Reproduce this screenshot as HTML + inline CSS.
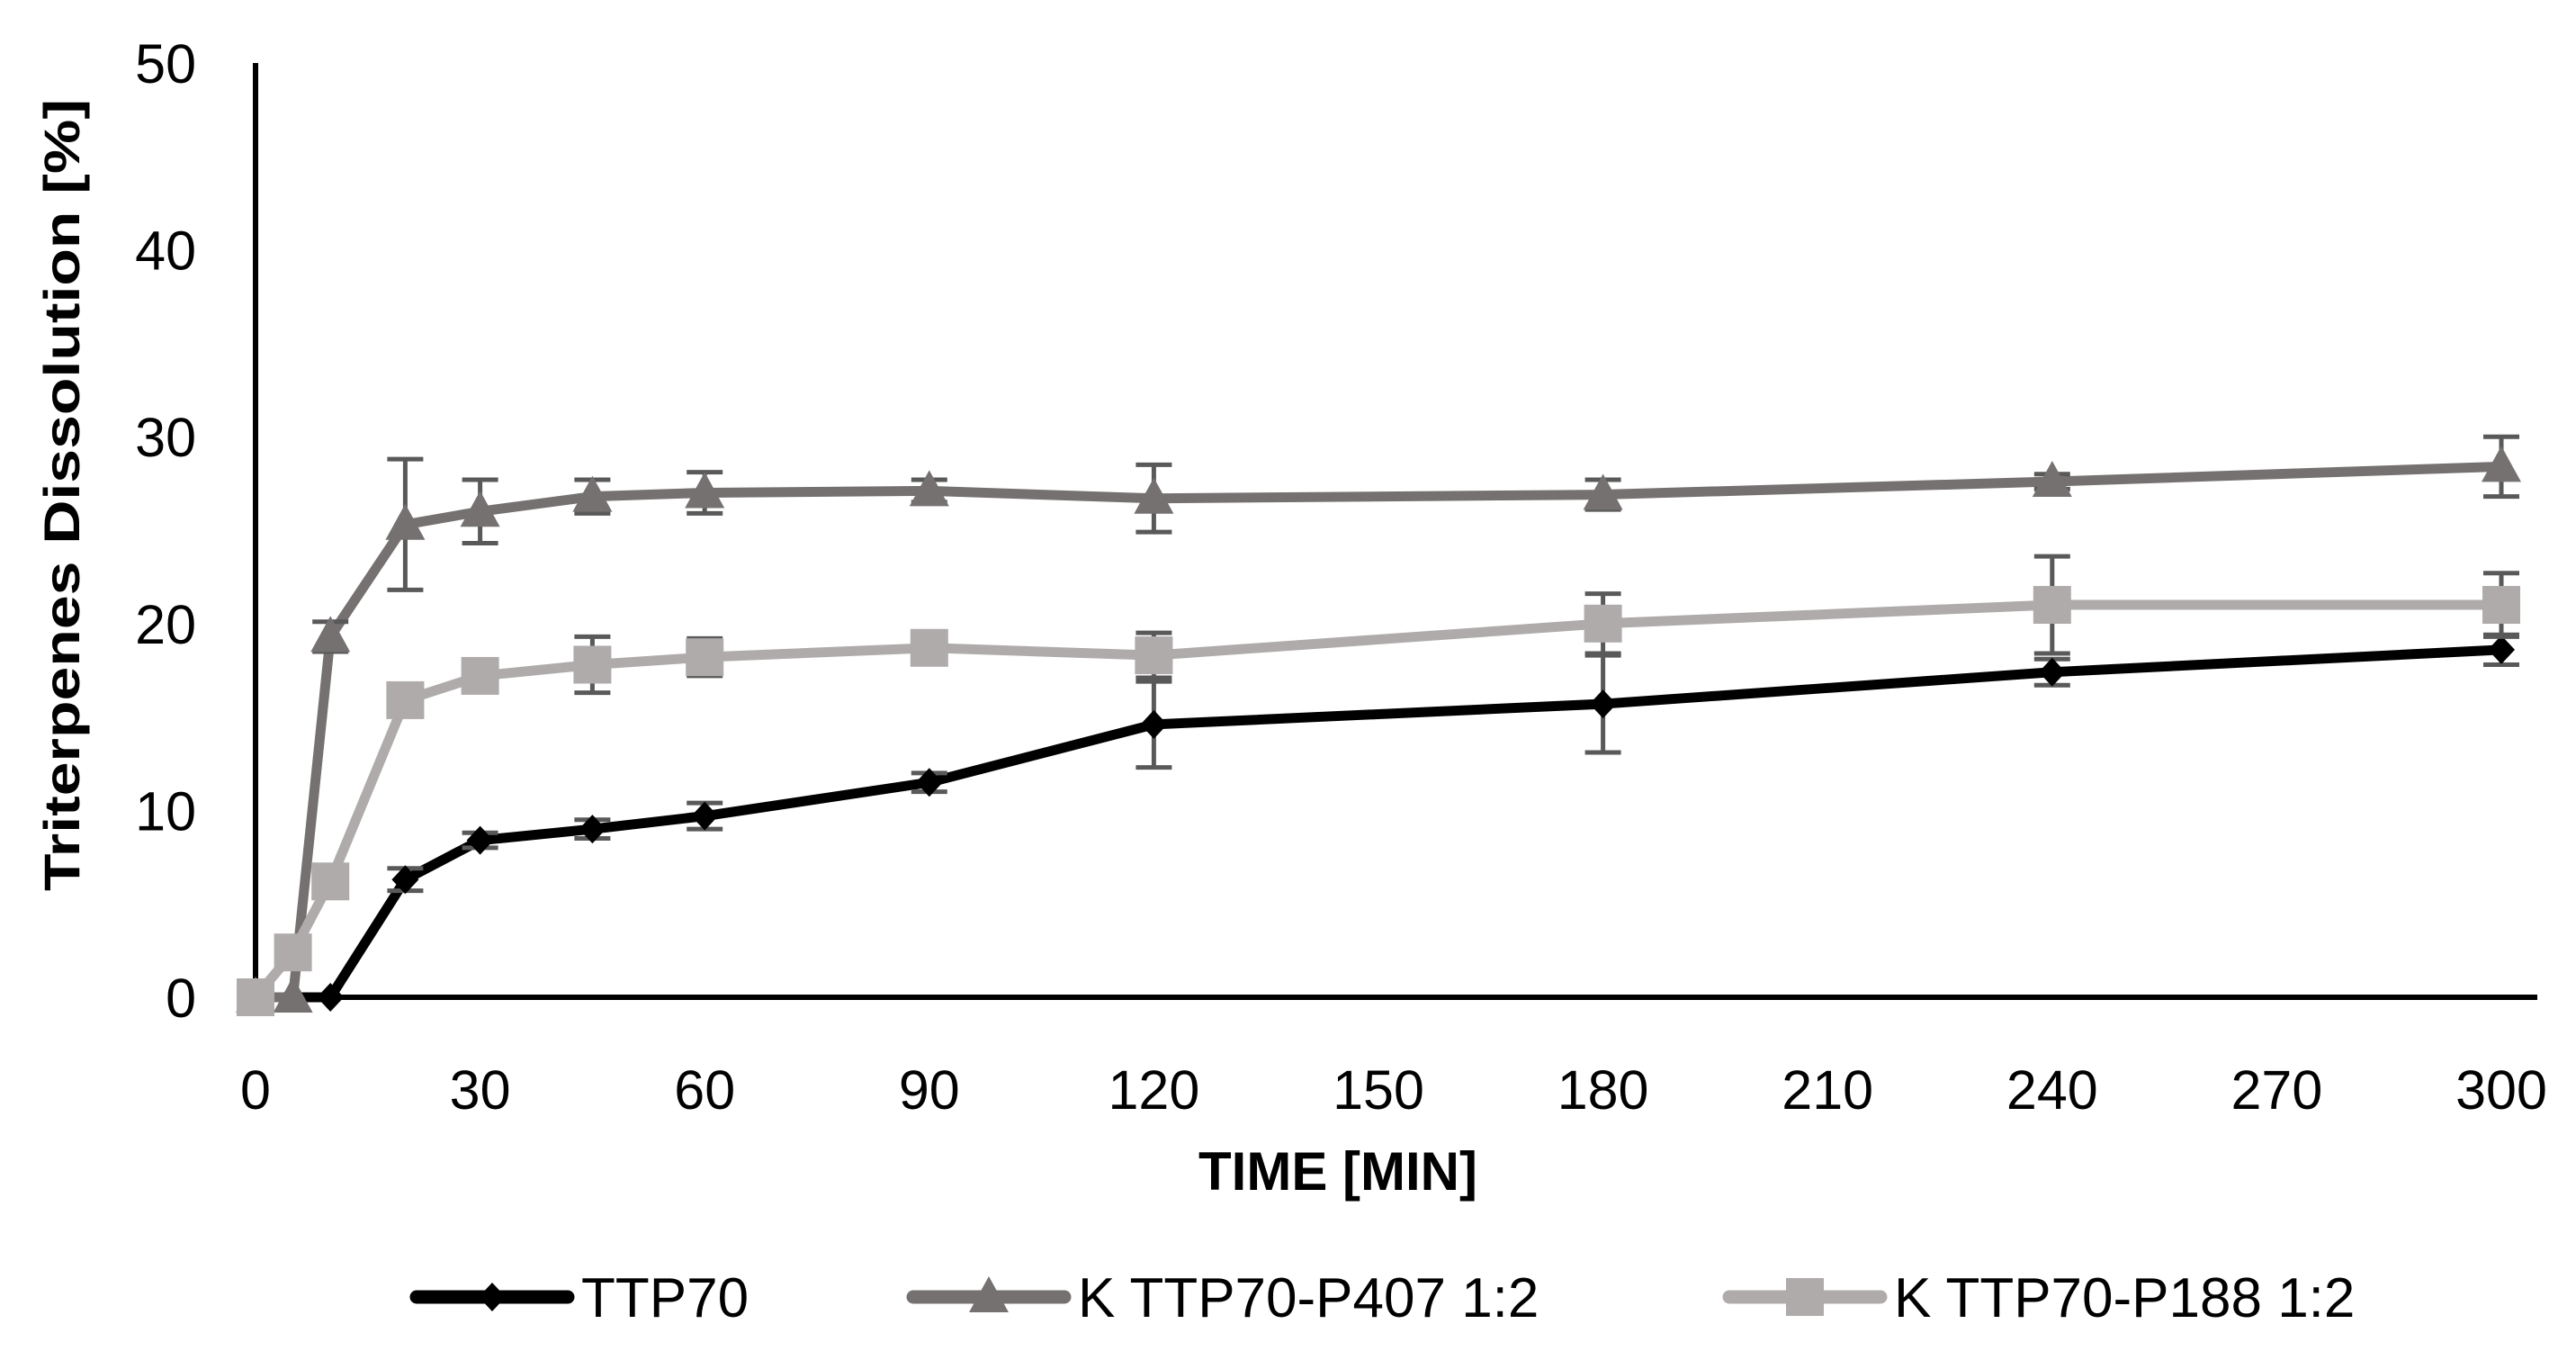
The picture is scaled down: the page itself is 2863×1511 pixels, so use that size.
<!DOCTYPE html>
<html><head><meta charset="utf-8"><style>
html,body{margin:0;padding:0;background:#fff;}
svg{display:block;font-family:"Liberation Sans",sans-serif;}
</style></head><body>
<svg id="chart" width="2863" height="1511" viewBox="0 0 2863 1511" xmlns="http://www.w3.org/2000/svg">
<g id="axes"></g>
<g id="series"></g>
<text transform="translate(88,550) rotate(-90)" text-anchor="middle" font-weight="bold" font-size="56" textLength="880" lengthAdjust="spacingAndGlyphs">Triterpenes Dissolution  [%]</text>
<text x="1487" y="1322" text-anchor="middle" font-weight="bold" font-size="60">TIME [MIN]</text>
<g id="legend"></g>
</svg>
<script>
const times = [0,5,10,20,30,45,60,90,120,180,240,300];
const seriesNames = ["TTP70","K TTP70-P407 1:2","K TTP70-P188 1:2"];
const ttp70 = [0,0,0,6.3,8.4,9.0,9.7,11.5,14.6,15.7,17.4,18.6];
const ttp70Err = [0,0,0,0.6,0.4,0.5,0.7,0.5,2.3,2.6,0.7,0.8];
const p407 = [0,0,19.3,25.3,26.0,26.8,27.0,27.1,26.7,26.9,27.6,28.4];
const p407Err = [0,0,0.8,3.5,1.7,0.9,1.1,0.6,1.8,0.8,0.4,1.6];
const p188 = [0,2.4,6.2,15.9,17.2,17.8,18.2,18.7,18.3,20.0,21.0,21.0];
const p188Err = [0,0,0,0.5,0.5,1.5,1.0,0.6,1.2,1.6,2.6,1.7];
const xTicks = [0,30,60,90,120,150,180,210,240,270,300];
const yTicks = [0,10,20,30,40,50];

const NS="http://www.w3.org/2000/svg";
const X0=284,X1=2780,Y0=1108,Y1=70;
const xs=v=>X0+(v/300)*(X1-X0);
const ys=v=>Y0-(v/50)*(Y0-Y1);
function mk(tag,attrs,parent){const e=document.createElementNS(NS,tag);for(const k in attrs)e.setAttribute(k,attrs[k]);parent.appendChild(e);return e;}
const axes=document.getElementById('axes');
let ya=mk('line',{x1:X0,y1:Y1,x2:X0,y2:Y0,stroke:'#000','stroke-width':6},axes);


let xa=mk('line',{x1:X0,y1:Y0,x2:2820,y2:Y0,stroke:'#000','stroke-width':6},axes);


yTicks.forEach(v=>{const t=mk('text',{x:218,y:ys(v)+22,'text-anchor':'end','font-size':61},axes);t.textContent=v;

});
xTicks.forEach(v=>{const t=mk('text',{x:xs(v),y:1232,'text-anchor':'middle','font-size':61},axes);t.textContent=v;

});

const cfg=[{d:ttp70,e:ttp70Err,c:'#000',m:'diamond',n:'ttp70'},{d:p407,e:p407Err,c:'#767171',m:'triangle',n:'p407'},{d:p188,e:p188Err,c:'#AFABAB',m:'square',n:'p188'}];
const sg=document.getElementById('series');
function marker(type,x,y,c,g){
 if(type==='diamond')return mk('polygon',{points:`${x},${y-16} ${x+15},${y} ${x},${y+16} ${x-15},${y}`,fill:c},g);
 if(type==='triangle')return mk('polygon',{points:`${x},${y-23} ${x+22},${y+17} ${x-22},${y+17}`,fill:c},g);
 return mk('rect',{x:x-21,y:y-21,width:42,height:42,fill:c},g);
}
cfg.forEach(s=>{
 const g=mk('g',{},sg);
 
 
 const pl=mk('polyline',{points:times.map((t,i)=>xs(t)+','+ys(s.d[i])).join(' '),fill:'none',stroke:s.c,'stroke-width':11,'stroke-linejoin':'round'},g);
 
 
 times.forEach((t,i)=>{
  if(s.e[i]>0){const x=xs(t),a=ys(s.d[i]+s.e[i]),b=ys(s.d[i]-s.e[i]);
   const eb=mk('path',{d:`M${x},${a}V${b}M${x-20},${a}H${x+20}M${x-20},${b}H${x+20}`,stroke:'#595959','stroke-width':5,fill:'none'},g);
   
   }
  const m=marker(s.m,xs(t),ys(s.d[i]),s.c,g);
  
  
 });
});
const lg=document.getElementById('legend');
const lx=[463,1015,1922];
cfg.forEach((s,i)=>{
 const g=mk('g',{},lg);
 
 
 mk('line',{x1:lx[i],y1:1441,x2:lx[i]+168,y2:1441,stroke:s.c,'stroke-width':15,'stroke-linecap':'round'},g);
 marker(s.m,lx[i]+84,1441,s.c,g);
 const t=mk('text',{x:lx[i]+183,y:1463,'font-size':62},g);t.textContent=seriesNames[i];
});
</script>
</body></html>
